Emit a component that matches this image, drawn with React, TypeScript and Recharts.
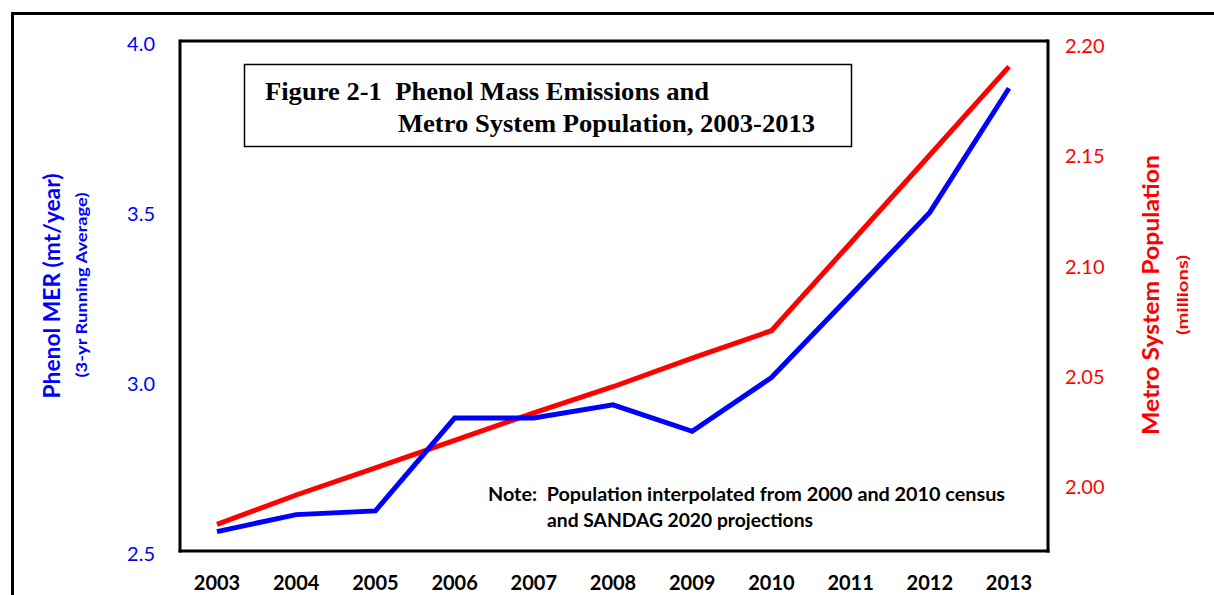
import { Line, LineChart, ReferenceLine, XAxis, YAxis } from "recharts";

// values
const years = ["2003", "2004", "2005", "2006", "2007", "2008", "2009", "2010", "2011", "2012", "2013"];
const phenolMer = [2.557, 2.607, 2.618, 2.891, 2.891, 2.93, 2.852, 3.01, 3.252, 3.496, 3.861];
const metroPopulation = [1.9817, 1.995, 2.0073, 2.0198, 2.0322, 2.0441, 2.0571, 2.0695, 2.1093, 2.1492, 2.1893];
const merTicks = [2.5, 3.0, 3.5, 4.0];
const popTicks = [2.0, 2.05, 2.1, 2.15, 2.2];

const chartData = years.map((year, i) => ({
  year,
  mer: phenolMer[i],
  pop: metroPopulation[i],
}));

const BLUE = "#0000FF";
const RED = "#FF0000";
const SANS = "Lato, 'Open Sans', sans-serif";
const SERIF = "'Liberation Serif', 'DejaVu Serif', serif";
const frame = { stroke: "#000", strokeWidth: 3, strokeLinecap: "square" as const };
const pre = { whiteSpace: "pre" as const };

export default function App() {
  return (
    <div style={{ position: "absolute", left: 0, top: 0, width: 1214, height: 595, background: "#fff" }}>
      {/* outer frame, only top and left edges show */}
      <div
        style={{
          position: "absolute",
          left: 11,
          top: 12,
          right: -4,
          bottom: -4,
          borderTop: "3px solid #000",
          borderLeft: "3px solid #000",
        }}
      />
      <LineChart
        width={1214}
        height={595}
        data={chartData}
        margin={{ top: 41, right: 106, bottom: 4, left: 120 }}
        style={{ position: "absolute", left: 0, top: 0 }}
      >
        <XAxis
          dataKey="year"
          padding={{ left: 37, right: 39 }}
          height={40}
          axisLine={frame}
          tickLine={false}
          tickSize={0}
          tickMargin={25}
          tick={{ fill: "#000", fontSize: 20, fontWeight: 700, fontFamily: SANS }}
          interval={0}
        />
        <YAxis
          yAxisId="mer"
          width={60}
          domain={[2.5, 4.0]}
          ticks={merTicks}
          allowDataOverflow
          axisLine={frame}
          tickLine={false}
          tickSize={0}
          tickMargin={25}
          tickFormatter={(v: number) => v.toFixed(1)}
          tick={{ fill: BLUE, fontSize: 20, fontFamily: SANS, dy: 3 }}
        />
        <YAxis
          yAxisId="pop"
          orientation="right"
          width={60}
          domain={[1.9696, 2.2009]}
          ticks={popTicks}
          allowDataOverflow
          axisLine={frame}
          tickLine={false}
          tickSize={0}
          tickMargin={17}
          tickFormatter={(v: number) => v.toFixed(2)}
          tick={{ fill: RED, fontSize: 20, fontFamily: SANS, dy: 3 }}
        />
        <ReferenceLine yAxisId="mer" y={4.0} stroke="#000" strokeWidth={3} />
        <Line
          yAxisId="pop"
          type="linear"
          dataKey="pop"
          name="Metro System Population"
          stroke={RED}
          strokeWidth={5}
          dot={false}
          activeDot={false}
          isAnimationActive={false}
        />
        <Line
          yAxisId="mer"
          type="linear"
          dataKey="mer"
          name="Phenol MER"
          stroke={BLUE}
          strokeWidth={5}
          dot={false}
          activeDot={false}
          isAnimationActive={false}
        />
      </LineChart>
      <svg
        width={1214}
        height={595}
        style={{ position: "absolute", left: 0, top: 0, pointerEvents: "none" }}
      >
        {/* title box */}
        <rect x={244.5} y={64.5} width={607} height={82} fill="#fff" stroke="#000" strokeWidth={1.5} />
        <text x={265} y={100} style={pre} fontFamily={SERIF} fontWeight={700} fontSize={25} fill="#000"
          textLength={444} lengthAdjust="spacingAndGlyphs">
          {"Figure 2-1  Phenol Mass Emissions and"}
        </text>
        <text x={398} y={132} fontFamily={SERIF} fontWeight={700} fontSize={25} fill="#000"
          textLength={417} lengthAdjust="spacingAndGlyphs">
          Metro System Population, 2003-2013
        </text>

        {/* note */}
        <text x={488} y={501} style={pre} fontFamily={SANS} fontWeight={700} fontSize={19} fill="#000"
          textLength={517} lengthAdjust="spacingAndGlyphs">
          {"Note:  Population interpolated from 2000 and 2010 census"}
        </text>
        <text x={547} y={527} fontFamily={SANS} fontWeight={700} fontSize={19} fill="#000"
          textLength={266} lengthAdjust="spacingAndGlyphs">
          and SANDAG 2020 projections
        </text>

        {/* left axis title */}
        <text x={51} y={286} transform="rotate(-90 51 286)" textAnchor="middle" dominantBaseline="central"
          fontFamily={SANS} fontWeight={700} fontSize={22} fill={BLUE}
          textLength={225} lengthAdjust="spacingAndGlyphs">
          Phenol MER (mt/year)
        </text>
        <text x={81} y={285} transform="rotate(-90 81 285)" textAnchor="middle" dominantBaseline="central"
          fontFamily={SANS} fontWeight={700} fontSize={15} fill={BLUE}
          textLength={185} lengthAdjust="spacingAndGlyphs">
          (3-yr Running Average)
        </text>

        {/* right axis title */}
        <text x={1150} y={295} transform="rotate(-90 1150 295)" textAnchor="middle" dominantBaseline="central"
          fontFamily={SANS} fontWeight={700} fontSize={23} fill={RED}
          textLength={280} lengthAdjust="spacingAndGlyphs">
          Metro System Population
        </text>
        <text x={1182} y={295} transform="rotate(-90 1182 295)" textAnchor="middle" dominantBaseline="central"
          fontFamily={SANS} fontWeight={700} fontSize={15} fill={RED}
          textLength={80} lengthAdjust="spacingAndGlyphs">
          (millions)
        </text>
      </svg>
    </div>
  );
}
